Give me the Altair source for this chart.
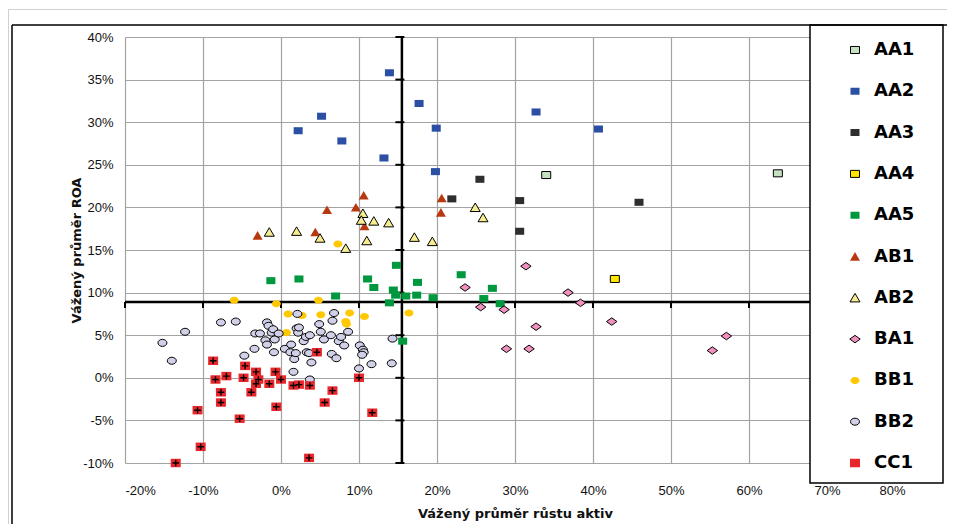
import altair as alt
import pandas as pd

series_order = ["AA1", "AA2", "AA3", "AA4", "AA5", "AB1", "AB2", "BA1", "BB1", "BB2", "CC1"]

aa1_x = [34.0, 63.7]
aa1_y = [23.8, 24.0]
aa2_x = [2.2, 5.2, 7.8, 13.2, 13.9, 17.7, 19.9, 19.8, 32.7, 40.7]
aa2_y = [29.0, 30.7, 27.8, 25.8, 35.8, 32.2, 29.3, 24.2, 31.2, 29.2]
aa3_x = [25.5, 21.9, 30.6, 30.6, 45.9]
aa3_y = [23.3, 21.0, 20.8, 17.2, 20.6]
aa4_x = [42.8]
aa4_y = [11.6]
aa5_x = [-1.3, 2.3, 7.0, 11.1, 11.9, 14.4, 14.8, 14.7, 16.0, 17.5, 17.4, 19.5, 13.9, 23.1, 27.1, 26.0, 28.1, 15.6]
aa5_y = [11.4, 11.6, 9.6, 11.6, 10.6, 10.3, 13.2, 9.7, 9.6, 11.2, 9.7, 9.4, 8.8, 12.1, 10.5, 9.3, 8.7, 4.3]
ab1_x = [-3.0, 4.4, 5.9, 9.6, 10.6, 10.7, 20.6, 20.5]
ab1_y = [16.7, 17.1, 19.7, 20.0, 21.4, 17.8, 21.1, 19.4]
ab2_x = [-1.5, 2.0, 5.0, 8.3, 10.5, 10.3, 11.9, 13.8, 11.0, 17.1, 19.4, 24.9, 25.9]
ab2_y = [17.1, 17.2, 16.4, 15.2, 19.3, 18.5, 18.4, 18.2, 16.1, 16.5, 16.0, 20.0, 18.8]
ba1_x = [31.4, 23.6, 36.8, 38.4, 25.6, 28.6, 32.7, 42.4, 57.1, 28.9, 31.8, 55.3]
ba1_y = [13.1, 10.6, 10.0, 8.8, 8.3, 8.0, 6.0, 6.6, 4.9, 3.4, 3.4, 3.2]
bb1_x = [-6.0, -0.6, 4.8, 0.9, 2.7, 5.1, 8.8, 10.7, 8.3, 8.4, 0.7, 16.4, 7.3]
bb1_y = [9.1, 8.7, 9.1, 7.5, 7.3, 7.4, 7.6, 7.2, 6.6, 6.3, 5.3, 7.6, 15.7]
bb2_x = [-15.2, -14.0, -12.3, -7.7, -5.8, -4.7, -3.4, -3.3, -2.7, -2.0, -1.8, -1.8, -1.6, -1.2,
         -1.0, -0.8, -0.9, -0.3, 0.5, 1.3, 1.2, 1.7, 1.9, 1.6, 2.0, 2.2, 2.1, 2.3, 2.9, 3.2, 3.3,
         3.7, 3.6, 3.9, 3.7, 4.9, 5.1, 5.5, 6.4, 6.6, 6.5, 6.8, 7.1, 7.4, 7.7, 8.1, 8.6, 10.1,
         10.5, 10.6, 10.4, 10.0, 11.6, 14.2, 14.3]
bb2_y = [4.1, 2.0, 5.4, 6.5, 6.6, 2.6, 3.4, 5.2, 5.2, 4.4, 3.9, 6.5, 6.1, 5.3, 5.7, 4.5, 3.0,
         5.2, 3.4, 3.9, 3.0, 2.2, 2.9, 0.7, 5.8, 5.3, 7.5, 5.9, 4.3, 4.8, 3.0, 5.0, 2.9, 1.8,
         -0.2, 6.3, 5.4, 4.5, 5.0, 6.7, 2.8, 7.6, 2.3, 4.3, 4.8, 3.8, 5.4, 3.8, 3.3, 3.0, 2.7,
         1.1, 1.6, 1.7, 4.6]
cc1_x = [-8.7, -8.4, -7.0, -7.7, -7.7, -10.7, -5.3, -10.3, -4.6, -4.8, -3.2, -2.9, -3.2, -3.8,
         -1.5, -0.7, 0.0, -0.6, 1.6, 2.3, 3.7, 4.6, 6.6, 5.6, 10.0, 11.7, 3.6, -13.5]
cc1_y = [2.0, -0.2, 0.2, -1.7, -2.9, -3.8, -4.8, -8.1, 1.4, 0.0, 0.7, -0.2, -0.7, -1.7, -0.7,
         0.7, -0.2, -3.4, -0.9, -0.8, -0.9, 3.0, -1.5, -2.9, 0.0, -4.1, -9.4, -10.0]

x_ticks = [-20, -10, 0, 10, 20, 30, 40, 50, 60, 70, 80]
y_ticks = [-10, -5, 0, 5, 10, 15, 20, 25, 30, 35, 40]
cross_x = 15.5   # vertical axis crosses here
cross_y = 8.9    # horizontal axis crosses here

fills = ["#c6e0c2", "#2b4fa3", "#2e2e2e", "#ffe500", "#00983f", "#b8380f", "#f8ec90",
         "#f291c0", "#ffc800", "#d0d0e8", "#e8272d"]
strokes = ["black", "transparent", "transparent", "black", "transparent", "transparent",
           "black", "black", "transparent", "black", "transparent"]
SQ = "M-0.82,-0.64H0.82V0.64H-0.82Z"
TRI = "M0,-0.8L0.91,0.75L-0.91,0.75Z"
DIA = "M-0.95,0L0,-0.68L0.95,0L0,0.68Z"
ELL = "M-0.82,0A0.82,0.64,0,1,1,0.82,0A0.82,0.64,0,1,1,-0.82,0Z"
CCSQ = "M-0.91,-0.77H0.91V0.77H-0.91Z"
PLUS = "M-0.6,0H0.6M0,-0.6V0.6"
shapes = [SQ, SQ, SQ, SQ, SQ, TRI, TRI, DIA, ELL, ELL, CCSQ]

all_x = [aa1_x, aa2_x, aa3_x, aa4_x, aa5_x, ab1_x, ab2_x, ba1_x, bb1_x, bb2_x, cc1_x]
all_y = [aa1_y, aa2_y, aa3_y, aa4_y, aa5_y, ab1_y, ab2_y, ba1_y, bb1_y, bb2_y, cc1_y]
rows = []
for name, xs, ys in zip(series_order, all_x, all_y):
    for a, b in zip(xs, ys):
        rows.append({"series": name, "x": a, "y": b})
df = pd.DataFrame(rows)

X = alt.X("x:Q", scale=alt.Scale(domain=[-20, 80], nice=False, zero=False),
          axis=alt.Axis(values=x_ticks, labelExpr="datum.value + '%'", grid=True,
                        gridColor="#a3a3a3", gridWidth=1.2, domain=False, ticks=False, tickSize=0,
                        labelPadding=21, labelFont="Liberation Sans", labelFontSize=13,
                        labelColor="#111", title="Vážený průměr růstu aktiv",
                        titleFont="DejaVu Sans", titleFontSize=13, titleFontWeight="bold",
                        titleColor="#111", titleX=390, titleY=50, titleBaseline="middle",
                        titleAlign="center"))
Y = alt.Y("y:Q", scale=alt.Scale(domain=[-10, 40], nice=False, zero=False),
          axis=alt.Axis(values=y_ticks, labelExpr="datum.value + '%'", grid=True,
                        gridColor="#a3a3a3", gridWidth=1.2, domain=False, ticks=False, tickSize=0,
                        labelPadding=12, labelFont="Liberation Sans", labelFontSize=13,
                        labelColor="#111", title="Vážený průměr ROA",
                        titleFont="DejaVu Sans", titleFontSize=13, titleFontWeight="bold",
                        titleColor="#111", titleX=-49, titleY=213, titleBaseline="middle",
                        titleAlign="center", titleAngle=-90))

leg = alt.Legend(title=None, orient="none", legendX=721, legendY=4, padding=0,
                 labelFont="DejaVu Sans", labelFontSize=18, labelFontWeight="bold",
                 labelColor="black", rowPadding=23.3, clipHeight=18, labelOffset=10,
                 symbolSize=121, symbolStrokeWidth=1, symbolOpacity=1, zindex=1)

points = alt.Chart(df).mark_point(filled=True, opacity=1, size=121, strokeWidth=1).encode(
    x=X, y=Y,
    fill=alt.Fill("series:N", scale=alt.Scale(domain=series_order, range=fills), legend=leg),
    stroke=alt.Stroke("series:N", scale=alt.Scale(domain=series_order, range=strokes), legend=leg),
    shape=alt.Shape("series:N", scale=alt.Scale(domain=series_order, range=shapes), legend=leg),
)

plus = alt.Chart(df[df["series"] == "CC1"]).mark_point(
    shape=PLUS, size=121, stroke="black", strokeWidth=1.4, filled=False, opacity=1
).encode(x=X, y=Y)

vline = alt.Chart(pd.DataFrame({"x": [cross_x], "y": [-10], "y2": [40]})).mark_rule(
    color="black", strokeWidth=2.5).encode(x=X, y=Y, y2="y2:Q")
hline = alt.Chart(pd.DataFrame({"x": [-20], "x2": [80], "y": [cross_y]})).mark_rule(
    color="black", strokeWidth=2.5).encode(x=X, x2="x2:Q", y=Y)
vticks = alt.Chart(pd.DataFrame({"x": [cross_x] * len(y_ticks), "y": y_ticks})).mark_tick(
    orient="horizontal", size=9, thickness=2, color="black", opacity=1, xOffset=-2).encode(x=X, y=Y)
hticks = alt.Chart(pd.DataFrame({"x": x_ticks, "y": [cross_y] * len(x_ticks)})).mark_tick(
    orient="vertical", size=6, thickness=2, color="black", opacity=1, yOffset=3).encode(x=X, y=Y)

one = pd.DataFrame({"k": [0]})
legend_box = alt.Chart(one).mark_rect(fill="white", stroke="black", strokeWidth=1.5).encode(
    x=alt.value(685), x2=alt.value(818), y=alt.value(-12), y2=alt.value(446))
frame_top = alt.Chart(one).mark_rule(color="black", strokeWidth=1.5).encode(
    x=alt.value(-113), x2=alt.value(900), y=alt.value(-12))
frame_left = alt.Chart(one).mark_rule(color="black", strokeWidth=1.5).encode(
    x=alt.value(-113), y=alt.value(-12), y2=alt.value(600))
outer_top = alt.Chart(one).mark_rule(color="#d0d0d0", strokeWidth=1).encode(
    x=alt.value(-116.5), x2=alt.value(900), y=alt.value(-27.5))
outer_left = alt.Chart(one).mark_rule(color="#d0d0d0", strokeWidth=1).encode(
    x=alt.value(-116.5), y=alt.value(-27.5), y2=alt.value(600))

chart = alt.layer(vline, hline, vticks, hticks, points, plus, legend_box,
                  frame_top, frame_left, outer_top, outer_left).properties(
    width=780, height=426,
    autosize=alt.AutoSizeParams(type="none"),
    padding={"left": 117, "top": 29, "right": 42, "bottom": 61},
    background="white",
).configure_view(stroke=None)

chart.save("out.html", embed_options={"renderer": "svg", "actions": False})
